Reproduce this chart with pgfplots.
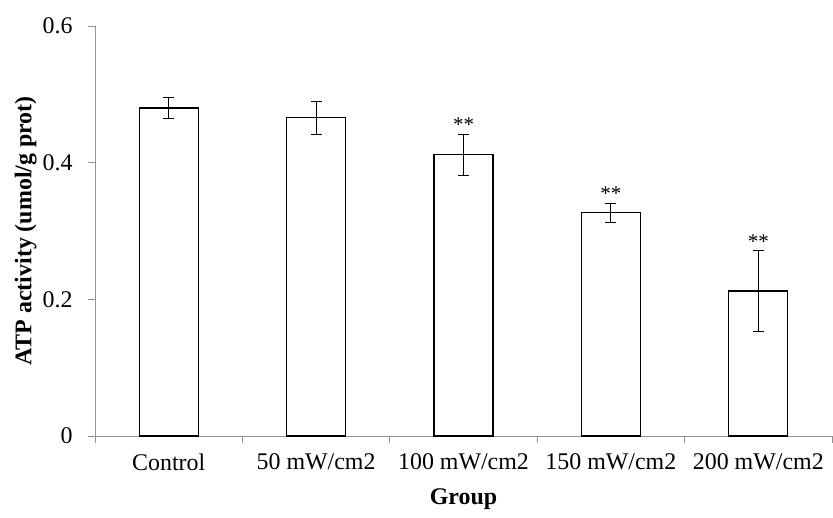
\documentclass[border=0pt]{standalone}
\usepackage{fontspec}
\setmainfont{Liberation Serif}
\usepackage{pgfplots}
\pgfplotsset{compat=1.18}
\begin{document}
\begin{tikzpicture}
\begin{axis}[
 scale only axis, width=737bp, height=410bp,
 xmin=-0.5, xmax=4.5, ymin=0, ymax=0.6,
 axis x line=bottom, axis y line=left,
 axis line style={-, draw=gray!85, line width=0.8pt},
 ytick={0,0.2,0.4,0.6},
 yticklabels={0,0.2,0.4,0.6},
 xtick={0,1,2,3,4},
 xticklabels={Control, 50 mW/cm2, 100 mW/cm2, 150 mW/cm2, 200 mW/cm2},
 x tick style={draw=none},
 minor xtick={-0.5,0.5,1.5,2.5,3.5,4.5},
 minor x tick style={draw=gray!85, line width=0.8pt},
 tick align=outside,
 major tick length=7bp, minor tick length=7bp,
 y tick style={draw=gray!85, line width=0.8pt},
 ticklabel style={font=\fontsize{24}{28}\selectfont},
 xticklabel style={yshift=-7bp},
 yticklabel style={xshift=-12bp},
 /pgf/number format/assume math mode=true,
 xlabel={\textbf{Group}}, ylabel={\textbf{ATP activity (umol/g prot)}},
 label style={font=\fontsize{24}{28}\selectfont},
 xlabel style={yshift=-11bp},
 ylabel style={yshift=-1bp},
 clip=false,
]
\addplot[ybar, bar width=0.4, fill=white, draw=black, line width=1.3bp,
  error bars/.cd, y dir=both, y explicit, error mark=-,
  error bar style={line width=0.9bp, black},
  error mark options={rotate=90, line width=0.9bp, mark size=5.5bp, black}]
 coordinates {
 (0,0.480) +- (0,0.016)
 (1,0.466) +- (0,0.024)
 (2,0.412) +- (0,0.030)
 (3,0.327) +- (0,0.014)
 (4,0.212) +- (0,0.059)
 };
\addplot[draw=none, mark=none, nodes near coords, point meta=explicit symbolic,
  nodes near coords style={font=\fontsize{21}{23}\selectfont, anchor=south, inner sep=2bp}]
 coordinates {(2,0.442) [**] (3,0.341) [**] (4,0.271) [**]};
\end{axis}
\pgfresetboundingbox
\path[use as bounding box] (-95bp,-82bp) rectangle (738bp,436bp);
\end{tikzpicture}
\end{document}
